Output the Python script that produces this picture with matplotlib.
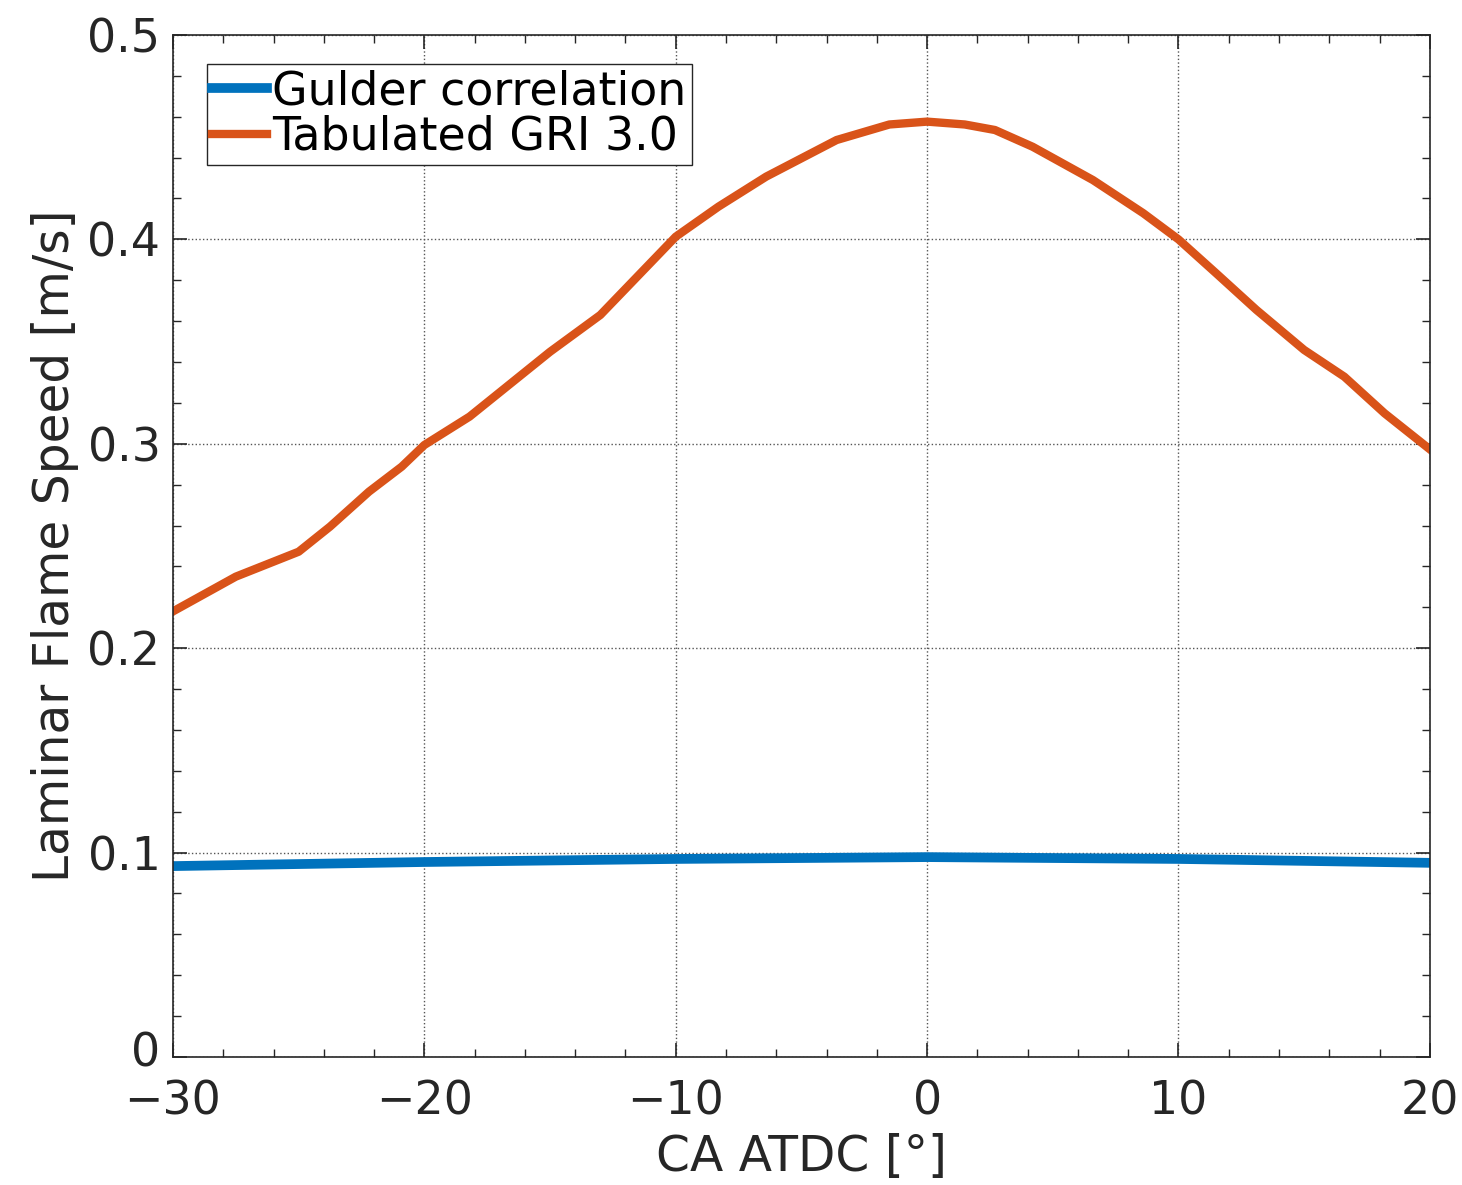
import matplotlib
matplotlib.use("Agg")
import matplotlib.pyplot as plt
import matplotlib.transforms as mtransforms
from matplotlib.ticker import MultipleLocator

ca = [-30, -27.5, -25, -23.75, -22.2, -20.9, -20, -18.2, -15, -13, -10, -8.3, -6.4, -3.6, -1.5, 0,
      1.5, 2.7, 4.2, 6.6, 8.6, 10, 11.5, 13.1, 15, 16.6, 18.2, 20]
gri = [0.218, 0.235, 0.2472, 0.2595, 0.2766, 0.2888, 0.2994, 0.3133, 0.345, 0.363, 0.4013, 0.416,
       0.4307, 0.4486, 0.4562, 0.4576, 0.4562, 0.4535, 0.4453, 0.429, 0.4128, 0.400, 0.3834, 0.3655,
       0.3459, 0.3328, 0.3149, 0.2973]
ca_g = [-30, -20, -10, 0, 10, 20]
gulder = [0.0934, 0.0954, 0.0969, 0.0978, 0.0969, 0.0950]

xticks = [-30, -20, -10, 0, 10, 20]
xticklabels = ['\u221230', '\u221220', '\u221210', '0', '10', '20']
yticks = [0, 0.1, 0.2, 0.3, 0.4, 0.5]
yticklabels = ['0', '0.1', '0.2', '0.3', '0.4', '0.5']

plt.rcParams['font.family'] = ['DejaVu Sans']
fig = plt.figure(figsize=(14.62, 11.85), dpi=100)
ax = fig.add_axes([0.1183, 0.108, 0.8597, 0.8625])

ax.plot(ca_g, gulder, color='#0072BD', lw=7, label='Gulder correlation')
ax.plot(ca, gri, color='#D95319', lw=6, label='Tabulated GRI 3.0')

ax.set_xlim(-30, 20)
ax.set_ylim(0, 0.5)
ax.set_xticks(xticks)
ax.set_xticklabels(xticklabels)
ax.set_yticks(yticks)
ax.set_yticklabels(yticklabels)
ax.xaxis.set_minor_locator(MultipleLocator(2))
ax.yaxis.set_minor_locator(MultipleLocator(0.02))
ax.tick_params(which='both', direction='in', top=True, right=True, colors='#262626',
               labelcolor='#262626', labelsize=33)
ax.tick_params(which='major', length=10, width=1.2)
ax.tick_params(which='minor', length=6, width=1.0)
ax.tick_params(axis='x', pad=16)
ax.tick_params(axis='y', pad=9)
ax.grid(True, which='major', linestyle=':', color='#555555', linewidth=1.0)
for s in ax.spines.values():
    s.set_color('#262626')
    s.set_linewidth(1.2)

# nudge the "0" y tick label slightly up so it clears the "-30" x tick label
lbl0 = ax.get_yticklabels()[0]
lbl0.set_transform(lbl0.get_transform() + mtransforms.ScaledTranslation(0, 6 / 72, fig.dpi_scale_trans))

ax.set_xlabel('CA ATDC [°]', fontsize=35, color='#262626', labelpad=6)
ax.set_ylabel('Laminar Flame Speed [m/s]', fontsize=35, color='#262626', labelpad=6)

leg = ax.legend(loc='upper left', bbox_to_anchor=(0.027, 0.972), fontsize=33, handlelength=1.2,
                handletextpad=0.1, borderpad=0.12, labelspacing=0.02, fancybox=False,
                framealpha=1, edgecolor='#262626', borderaxespad=0)
leg.get_frame().set_linewidth(1.0)

fig.savefig('out.png', dpi=100)
